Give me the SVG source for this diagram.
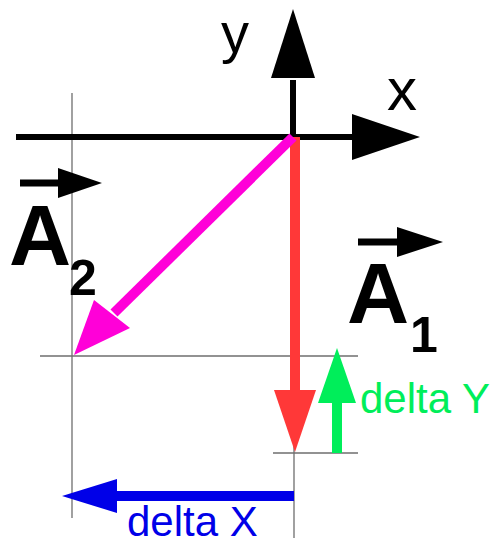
<svg xmlns="http://www.w3.org/2000/svg" width="500" height="545" viewBox="0 0 500 545">
<style>
.guide{stroke:#6e6e6e;stroke-width:1.3;fill:none}
.lbl{font-family:"Liberation Sans",Arial,sans-serif}
.big{font-family:"Liberation Sans",Arial,sans-serif;font-weight:bold;fill:#000}
</style>
<rect width="500" height="545" fill="#fff"/>
<g id="guides">
<line class="guide" x1="72" y1="93" x2="72" y2="518"/>
<line class="guide" x1="40" y1="356" x2="358" y2="356"/>
<line class="guide" x1="273" y1="453" x2="358" y2="453"/>
<line class="guide" x1="294" y1="433" x2="294" y2="538"/>
</g>
<g id="connectors">
<g id="x-axis">
<line x1="16" y1="137" x2="356" y2="137" stroke="#000" stroke-width="6"/>
<polygon points="352,114 420,137 352,160" fill="#000"/>
</g>
<g id="y-axis">
<line x1="293" y1="137" x2="293" y2="80" stroke="#000" stroke-width="6"/>
<polygon points="271,78 293,9 315,78" fill="#000"/>
</g>
<g id="vector-a1">
<line x1="295" y1="137" x2="295" y2="392" stroke="#ff3838" stroke-width="10"/>
<polygon points="274,390 316,390 295,452" fill="#ff3838"/>
</g>
<g id="vector-a2">
<line x1="293" y1="137" x2="114" y2="313" stroke="#ff00d8" stroke-width="10"/>
<polygon points="94,300 130,328 74,355" fill="#ff00d8"/>
</g>
<g id="delta-y-arrow">
<line x1="337" y1="453" x2="337" y2="400" stroke="#00ee5a" stroke-width="10"/>
<polygon points="318,403 356,403 337,348" fill="#00ee5a"/>
</g>
<g id="delta-x-arrow">
<line x1="294" y1="496" x2="114" y2="496" stroke="#0000e8" stroke-width="10"/>
<polygon points="117,479 117,513 62,496" fill="#0000e8"/>
</g>
</g>
<g id="label-x"><text class="lbl" x="387" y="110" font-size="60" fill="#000">x</text></g>
<g id="label-y"><text class="lbl" x="221" y="52" font-size="56" fill="#000">y</text></g>
<g id="label-a2">
<line x1="20" y1="183" x2="62" y2="183" stroke="#000" stroke-width="7"/>
<polygon points="58,168 102,183 58,198" fill="#000"/>
<text class="big" x="9" y="265" font-size="86">A</text>
<text class="big" x="69" y="295" font-size="50">2</text>
</g>
<g id="label-a1">
<line x1="358" y1="242" x2="400" y2="242" stroke="#000" stroke-width="7"/>
<polygon points="397,227 443,242 397,257" fill="#000"/>
<text class="big" x="347" y="323" font-size="86">A</text>
<text class="big" x="410" y="352" font-size="50">1</text>
</g>
<g id="label-delta-y"><text class="lbl" x="360" y="413" font-size="42" fill="#00ee5a">delta Y</text></g>
<g id="label-delta-x"><text class="lbl" x="127" y="536" font-size="42" fill="#0000e8">delta X</text></g>
</svg>
